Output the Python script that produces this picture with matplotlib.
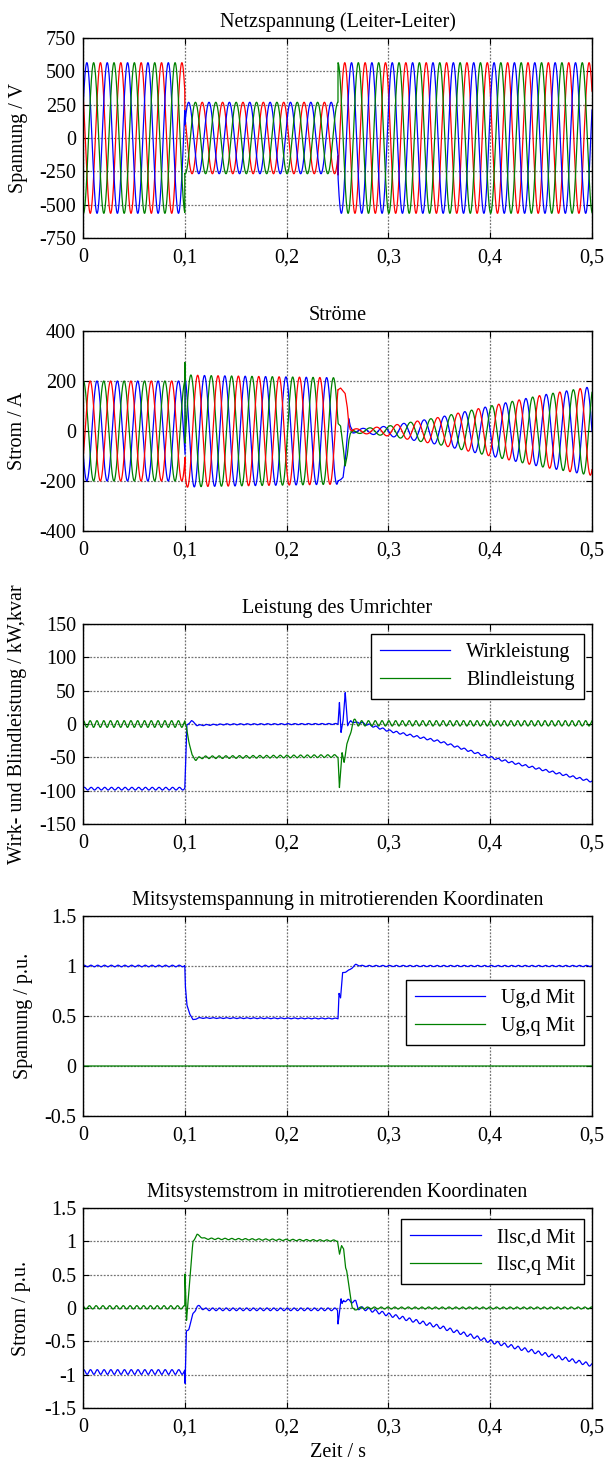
import numpy as np
import matplotlib
matplotlib.use('Agg')
import matplotlib.pyplot as plt

# ---------------- values ----------------
x_ticks = [0, 0.1, 0.2, 0.3, 0.4, 0.5]
x_ticklabels = ['0', '0,1', '0,2', '0,3', '0,4', '0,5']

titles = ['Netzspannung (Leiter-Leiter)', 'Ströme', 'Leistung des Umrichter',
          'Mitsystemspannung in mitrotierenden Koordinaten',
          'Mitsystemstrom in mitrotierenden Koordinaten']
ylabels = ['Spannung / V', 'Strom / A', 'Wirk- und Blindleistung / kW,kvar',
           'Spannung / p.u.', 'Strom / p.u.']
xlabel_last = 'Zeit / s'

yticks_1 = [-750, -500, -250, 0, 250, 500, 750]
yticklabels_1 = ['-750', '-500', '-250', '0', '250', '500', '750']
yticks_2 = [-400, -200, 0, 200, 400]
yticklabels_2 = ['-400', '-200', '0', '200', '400']
yticks_3 = [-150, -100, -50, 0, 50, 100, 150]
yticklabels_3 = ['-150', '-100', '-50', '0', '50', '100', '150']
yticks_4 = [-0.5, 0, 0.5, 1, 1.5]
yticklabels_4 = ['-0.5', '0', '0.5', '1', '1.5']
yticks_5 = [-1.5, -1, -0.5, 0, 0.5, 1, 1.5]
yticklabels_5 = ['-1.5', '-1', '-0.5', '0', '0.5', '1', '1.5']

grid_freq = 50.0            # Hz
ripple_freq = 150.0         # Hz, ripple seen on the dq / power traces

# Panel 1: line-line voltages (peak amplitude per segment, phases blue/green/red)
volt_seg_start = [0.0, 0.1, 0.2505]
volt_seg_amp = [565.0, 268.0, 565.0]
volt_phase_blue, volt_phase_green, volt_phase_red = 0.38, -1.71, 2.47

# Panel 2: phase currents
cur_bounds = [0.1003, 0.2505, 0.265]
cur_pre_amp = 200.0
cur_pre_phase_green, cur_pre_phase_red, cur_pre_phase_blue = 1.45, -0.64, -2.74
cur_sag_t = [0.1003, 0.12, 0.25]
cur_sag_amp = [225.0, 222.0, 213.0]
cur_sag_phase_green, cur_sag_phase_red, cur_sag_phase_blue = -0.31, -2.40, -4.50
cur_tr_t = [0.2505, 0.2530, 0.2555, 0.2575, 0.2595, 0.2610, 0.2625, 0.2650]
cur_tr_red = [165, 172, 160, 150, 100, 30, 5, 0]
cur_tr_blue = [-200, -195, -185, -120, -30, 50, 20, 0]
cur_tr_green = [30, 20, -60, -140, -100, -40, -10, 0]
cur_post_t = [0.265, 0.28, 0.30, 0.35, 0.40, 0.45, 0.50]
cur_post_amp = [8, 12, 20, 55, 100, 143, 178]
cur_post_phase_green, cur_post_phase_red, cur_post_phase_blue = 1.05, -1.05, -3.14
cur_spike_t = [0.0998, 0.1001, 0.1003]
cur_spike_green = [0, 75, 0]

# Panel 3: active / reactive power (kW, kvar)
p_t = [0, 0.1, 0.1008, 0.102, 0.1065, 0.112, 0.14, 0.2505, 0.2519, 0.2535, 0.2555,
       0.2576, 0.2600, 0.2630, 0.2680, 0.27, 0.28, 0.30, 0.35, 0.40, 0.45, 0.50]
p_v = [-97, -97, -62, -2, 5, -2, -0.5, 0, 33, -13, 5,
       48, -3, 5, 1, 3, -1, -10, -26, -50, -68, -86]
p_rip_t = [0, 0.1, 0.1001, 0.25, 0.27, 0.5]
p_rip_a = [2.0, 2.0, 0.8, 0.8, 1.5, 1.5]
q_t = [0, 0.1, 0.1015, 0.104, 0.107, 0.111, 0.116, 0.25, 0.2505, 0.2519, 0.2545,
       0.2565, 0.259, 0.2605, 0.2645, 0.266, 0.27, 0.5]
q_v = [0, 0, -5, -25, -48, -53, -50, -48, -48, -95, -45,
       -55, -32, -28, 0, 4, 1, 1]
q_rip_t = [0, 0.1, 0.1001, 0.25, 0.265, 0.5]
q_rip_a = [5.0, 5.0, 2.0, 2.0, 4.0, 4.0]

# Panel 4: positive-sequence voltage dq (p.u.)
ud_t = [0, 0.1, 0.1005, 0.102, 0.105, 0.108, 0.113, 0.25, 0.2505, 0.2515, 0.253,
        0.255, 0.262, 0.266, 0.268, 0.275, 0.5]
ud_v = [1.0, 1.0, 0.8, 0.61, 0.52, 0.46, 0.48, 0.475, 0.475, 0.73, 0.68,
        0.93, 0.96, 1.0, 1.012, 1.0, 1.0]
ud_rip_t = [0, 0.1, 0.1001, 0.25, 0.27, 0.5]
ud_rip_a = [0.008, 0.008, 0.004, 0.004, 0.006, 0.006]
uq_t = [0, 0.5]
uq_v = [0.0, 0.0]

# Panel 5: positive-sequence current dq (p.u.)
id_t = [0, 0.1, 0.1003, 0.1015, 0.104, 0.108, 0.112, 0.12, 0.25, 0.2505, 0.2535,
        0.2545, 0.256, 0.268, 0.2705, 0.28, 0.30, 0.35, 0.40, 0.45, 0.50]
id_v = [-0.96, -0.96, -1.15, -0.36, -0.30, -0.10, 0.03, -0.02, -0.02, -0.22, 0.12,
        0.05, 0.12, 0.09, 0.0, -0.02, -0.10, -0.28, -0.50, -0.68, -0.855]
id_rip_t = [0, 0.1, 0.1001, 0.25, 0.27, 0.5]
id_rip_a = [0.035, 0.035, 0.02, 0.02, 0.025, 0.025]
iq_t = [0, 0.1, 0.1002, 0.1017, 0.108, 0.112, 0.118, 0.12, 0.25, 0.252, 0.254,
        0.256, 0.258, 0.259, 0.2645, 0.267, 0.27, 0.5]
iq_v = [0.01, 0.01, 0.5, -0.18, 1.0, 1.1, 1.05, 1.04, 1.01, 0.8, 0.93,
        0.9, 0.6, 0.55, 0.0, -0.04, 0.0, 0.0]
iq_rip_t = [0, 0.1, 0.1001, 0.25, 0.27, 0.5]
iq_rip_a = [0.025, 0.025, 0.01, 0.01, 0.015, 0.015]

legend_3 = ['Wirkleistung', 'Blindleistung']
legend_4 = ['Ug,d Mit', 'Ug,q Mit']
legend_5 = ['Ilsc,d Mit', 'Ilsc,q Mit']

# ---------------- build traces ----------------
t = np.linspace(0, 0.5, 20001)
w = 2 * np.pi * grid_freq
wr = 2 * np.pi * ripple_freq

idx = np.searchsorted(volt_seg_start, t, side='right') - 1
vamp = np.array(volt_seg_amp)[idx]
u_blue = vamp * np.sin(w * t + volt_phase_blue)
u_green = vamp * np.sin(w * t + volt_phase_green)
u_red = vamp * np.sin(w * t + volt_phase_red)


def phase_current(ph_pre, ph_sag, ph_post, tr_vals, spike=None):
    out = np.zeros_like(t)
    m_pre = t < cur_bounds[0]
    m_sag = (t >= cur_bounds[0]) & (t < cur_bounds[1])
    m_tr = (t >= cur_bounds[1]) & (t < cur_bounds[2])
    m_post = t >= cur_bounds[2]
    out[m_pre] = cur_pre_amp * np.sin(w * t[m_pre] + ph_pre)
    a_sag = np.interp(t[m_sag], cur_sag_t, cur_sag_amp)
    out[m_sag] = a_sag * np.sin(w * t[m_sag] + ph_sag)
    out[m_tr] = np.interp(t[m_tr], cur_tr_t, tr_vals)
    a_post = np.interp(t[m_post], cur_post_t, cur_post_amp)
    out[m_post] = a_post * np.sin(w * t[m_post] + ph_post)
    if spike is not None:
        ms = (t >= cur_spike_t[0]) & (t <= cur_spike_t[-1])
        out[ms] += np.interp(t[ms], cur_spike_t, spike)
    return out


i_green = phase_current(cur_pre_phase_green, cur_sag_phase_green, cur_post_phase_green,
                        cur_tr_green, cur_spike_green)
i_red = phase_current(cur_pre_phase_red, cur_sag_phase_red, cur_post_phase_red, cur_tr_red)
i_blue = phase_current(cur_pre_phase_blue, cur_sag_phase_blue, cur_post_phase_blue, cur_tr_blue)


def trace(kt, kv, rt, ra, ph=0.0):
    return np.interp(t, kt, kv) + np.interp(t, rt, ra) * np.sin(wr * t + ph)


p_trace = trace(p_t, p_v, p_rip_t, p_rip_a, 0.3)
q_trace = trace(q_t, q_v, q_rip_t, q_rip_a, 1.2)
ud_trace = trace(ud_t, ud_v, ud_rip_t, ud_rip_a, 0.5)
uq_trace = np.interp(t, uq_t, uq_v)
id_trace = trace(id_t, id_v, id_rip_t, id_rip_a, 0.9)
iq_trace = trace(iq_t, iq_v, iq_rip_t, iq_rip_a, 2.0)

# ---------------- figure ----------------
plt.rcParams['font.family'] = ['Liberation Serif', 'DejaVu Serif']
FS = 14.5
W, H = 604, 1465
fig = plt.figure(figsize=(W / 100, H / 100), dpi=100)

ax_left, ax_w, ax_h = 83, 509, 200
tops = [38, 331, 624, 916, 1208]
ylab_x = [-0.108, -0.11, -0.11, -0.098, -0.102]

BLUE = (0, 0, 1)
GREEN = (0, 0.5, 0)
RED = (1, 0, 0)
LW = 0.9

axes = []
for k, top in enumerate(tops):
    ax = fig.add_axes([ax_left / W, 1 - (top + ax_h) / H, ax_w / W, ax_h / H])
    axes.append(ax)

yt = [(yticks_1, yticklabels_1), (yticks_2, yticklabels_2), (yticks_3, yticklabels_3),
      (yticks_4, yticklabels_4), (yticks_5, yticklabels_5)]

axes[0].plot(t, u_red, color=RED, lw=LW)
axes[0].plot(t, u_blue, color=BLUE, lw=LW)
axes[0].plot(t, u_green, color=GREEN, lw=LW)

axes[1].plot(t, i_blue, color=BLUE, lw=LW)
axes[1].plot(t, i_green, color=GREEN, lw=LW)
axes[1].plot(t, i_red, color=RED, lw=LW)

axes[2].plot(t, p_trace, color=BLUE, lw=LW, label=legend_3[0])
axes[2].plot(t, q_trace, color=GREEN, lw=LW, label=legend_3[1])

axes[3].plot(t, ud_trace, color=BLUE, lw=LW, label=legend_4[0])
axes[3].plot(t, uq_trace, color=GREEN, lw=LW, label=legend_4[1])

axes[4].plot(t, id_trace, color=BLUE, lw=LW, label=legend_5[0])
axes[4].plot(t, iq_trace, color=GREEN, lw=LW, label=legend_5[1])

for k, ax in enumerate(axes):
    ticks, labels = yt[k]
    ax.set_xlim(0, 0.5)
    ax.set_ylim(ticks[0], ticks[-1])
    ax.set_xticks(x_ticks)
    ax.set_xticklabels(x_ticklabels)
    ax.set_yticks(ticks)
    ax.set_yticklabels(labels)
    ax.tick_params(direction='in', length=4, width=0.8, top=True, right=True,
                   labelsize=FS, colors='k')
    ax.tick_params(axis='x', pad=7.5)
    ax.tick_params(axis='y', pad=5)
    ax.grid(True, color='0.45', linestyle=(0, (1.5, 1.2)), linewidth=0.9)
    ax.set_axisbelow(True)
    for s in ax.spines.values():
        s.set_linewidth(1.0)
        s.set_color('k')
    ax.set_title(titles[k], fontsize=FS, pad=8)
    ax.set_ylabel(ylabels[k], fontsize=FS)
    ax.yaxis.set_label_coords(ylab_x[k], 0.5)

axes[4].set_xlabel(xlabel_last, fontsize=FS, labelpad=4)

leg_anchor = {2: (0.984, 0.95), 3: (0.984, 0.68), 4: (0.984, 0.945)}
for k, anc in leg_anchor.items():
    leg = axes[k].legend(loc='upper right', bbox_to_anchor=anc, borderaxespad=0,
                         fontsize=FS, handlelength=3.5, fancybox=False,
                         framealpha=1, edgecolor='k', borderpad=0.45,
                         labelspacing=0.45, handletextpad=0.8)
    leg.get_frame().set_linewidth(1.0)

fig.savefig('out.png', dpi=100)
